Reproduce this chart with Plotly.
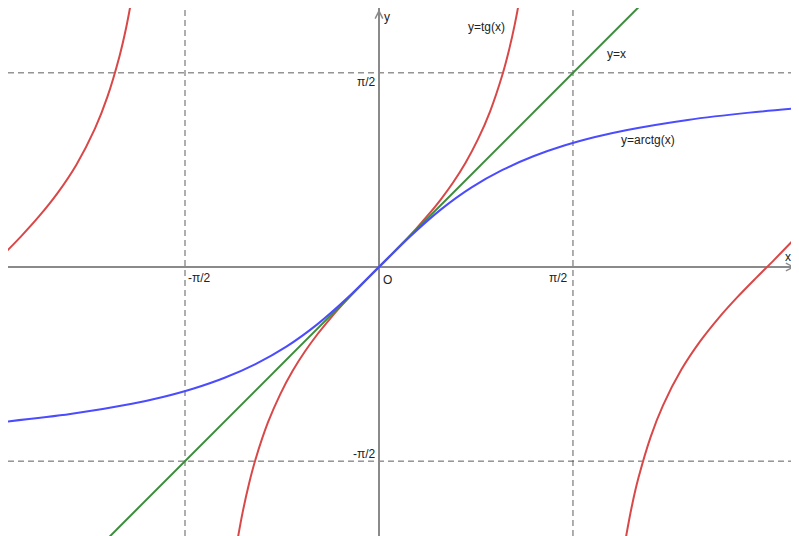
import numpy as np
import plotly.graph_objects as go

PI = np.pi

# y = tg(x): three visible branches
tg_left_x = [-3.03, -2.9, -2.75, -2.6, -2.45, -2.3, -2.2, -2.1, -2.05, -2.0, -1.98]
tg_left_y = [0.112, 0.246, 0.413, 0.602, 0.828, 1.119, 1.374, 1.710, 1.923, 2.185, 2.305]

tg_mid_x = [-1.17, -1.15, -1.1, -1.05, -1.0, -0.9, -0.8, -0.7, -0.6, -0.5, -0.4, -0.3, -0.2, -0.1,
            0.0, 0.1, 0.2, 0.3, 0.4, 0.5, 0.6, 0.7, 0.8, 0.9, 1.0, 1.05, 1.1, 1.15, 1.17]
tg_mid_y = [-2.360, -2.235, -1.965, -1.743, -1.557, -1.260, -1.030, -0.842, -0.684, -0.546, -0.423,
            -0.309, -0.203, -0.100, 0.0, 0.100, 0.203, 0.309, 0.423, 0.546, 0.684, 0.842, 1.030,
            1.260, 1.557, 1.743, 1.965, 2.235, 2.360]

tg_right_x = [1.98, 2.0, 2.05, 2.1, 2.2, 2.3, 2.45, 2.6, 2.75, 2.9, 3.05, 3.2, 3.41]
tg_right_y = [-2.305, -2.185, -1.923, -1.710, -1.374, -1.119, -0.828, -0.602, -0.413, -0.246,
              -0.092, 0.058, 0.275]

# y = arctg(x)
arctg_x = [-3.03, -2.5, -2.0, -1.75, -1.5, -1.25, -1.0, -0.75, -0.5, -0.25, 0.0,
           0.25, 0.5, 0.75, 1.0, 1.25, 1.5, 1.75, 2.0, 2.5, 3.0, 3.41]
arctg_y = [-1.252, -1.190, -1.107, -1.052, -0.983, -0.896, -0.785, -0.644, -0.464, -0.245, 0.0,
           0.245, 0.464, 0.644, 0.785, 0.896, 0.983, 1.052, 1.107, 1.190, 1.249, 1.286]

# y = x
line_x = [-2.3, 2.3]
line_y = [-2.3, 2.3]

# dashed guides at -pi/2 and pi/2
guides = [-PI / 2, PI / 2]

RED = "#D94848"
BLUE = "#4B4BFF"
GREEN = "#3B8C3B"
AXIS = "#8A8A8A"
DASH = "#5E5E5E"
TXT = "#222222"
FONT = "Liberation Sans, Arial, sans-serif"

fig = go.Figure()

for g in guides:
    fig.add_shape(type="line", xref="x", yref="paper", x0=g, x1=g, y0=0, y1=1,
                  line=dict(color=DASH, width=1, dash="6px,4px"), layer="below")
    fig.add_shape(type="line", xref="paper", yref="y", x0=0, x1=1, y0=g, y1=g,
                  line=dict(color=DASH, width=1, dash="6px,4px"), layer="below")

for bx, by in [(tg_left_x, tg_left_y), (tg_mid_x, tg_mid_y), (tg_right_x, tg_right_y)]:
    fig.add_trace(go.Scatter(x=bx, y=by, mode="lines",
                             line=dict(color=RED, width=2, shape="spline", smoothing=0.8)))

fig.add_trace(go.Scatter(x=line_x, y=line_y, mode="lines", line=dict(color=GREEN, width=2)))
fig.add_trace(go.Scatter(x=arctg_x, y=arctg_y, mode="lines",
                         line=dict(color=BLUE, width=2, shape="spline", smoothing=0.8)))

# page has an 8px body margin, so the figure is sized to the remaining window
x_range = [-3.004, 3.401]
y_range = [-2.1764, 2.0955]

annotations = [
    # axis arrows
    dict(x=3.37, y=0, ax=-12, ay=0, text="", showarrow=True, arrowhead=5, arrowsize=1,
         arrowwidth=1.5, arrowcolor=AXIS),
    dict(x=0, y=2.085, ax=0, ay=12, text="", showarrow=True, arrowhead=5, arrowsize=1,
         arrowwidth=1.5, arrowcolor=AXIS),
    # axis names
    dict(x=3.31, y=0, text="x", xanchor="center", yanchor="bottom", yshift=1),
    dict(x=0, y=2.02, text="y", xanchor="left", yanchor="middle", xshift=3),
    # tick labels
    dict(x=0, y=PI / 2, text="π/2", xanchor="right", yanchor="top", xshift=-1, yshift=0),
    dict(x=0, y=-PI / 2, text="-π/2", xanchor="right", yanchor="bottom", xshift=-1, yshift=-2),
    dict(x=-PI / 2, y=0, text="-π/2", xanchor="left", yanchor="top", xshift=1, yshift=-2),
    dict(x=PI / 2, y=0, text="π/2", xanchor="right", yanchor="top", xshift=-3, yshift=-2),
    dict(x=0, y=0, text="O", xanchor="left", yanchor="top", xshift=2, yshift=-4),
    # curve names
    dict(x=0.874, y=1.94, text="y=tg(x)", xanchor="center", yanchor="middle"),
    dict(x=1.927, y=1.723, text="y=x", xanchor="center", yanchor="middle"),
    dict(x=2.178, y=1.027, text="y=arctg(x)", xanchor="center", yanchor="middle"),
]
for a in annotations:
    a.setdefault("showarrow", False)
    a.setdefault("font", dict(family=FONT, size=12, color=TXT))
    a["xref"] = "x"
    a["yref"] = "y"

fig.update_layout(
    width=791, height=528,
    margin=dict(l=0, r=0, t=0, b=0),
    paper_bgcolor="white", plot_bgcolor="white",
    showlegend=False,
    hovermode=False,
    annotations=annotations,
    xaxis=dict(range=x_range, showgrid=False, showticklabels=False, ticks="",
               zeroline=True, zerolinecolor=AXIS, zerolinewidth=1.5, fixedrange=True),
    yaxis=dict(range=y_range, showgrid=False, showticklabels=False, ticks="",
               zeroline=True, zerolinecolor=AXIS, zerolinewidth=1.5, fixedrange=True),
)

fig.write_html("out.html")
